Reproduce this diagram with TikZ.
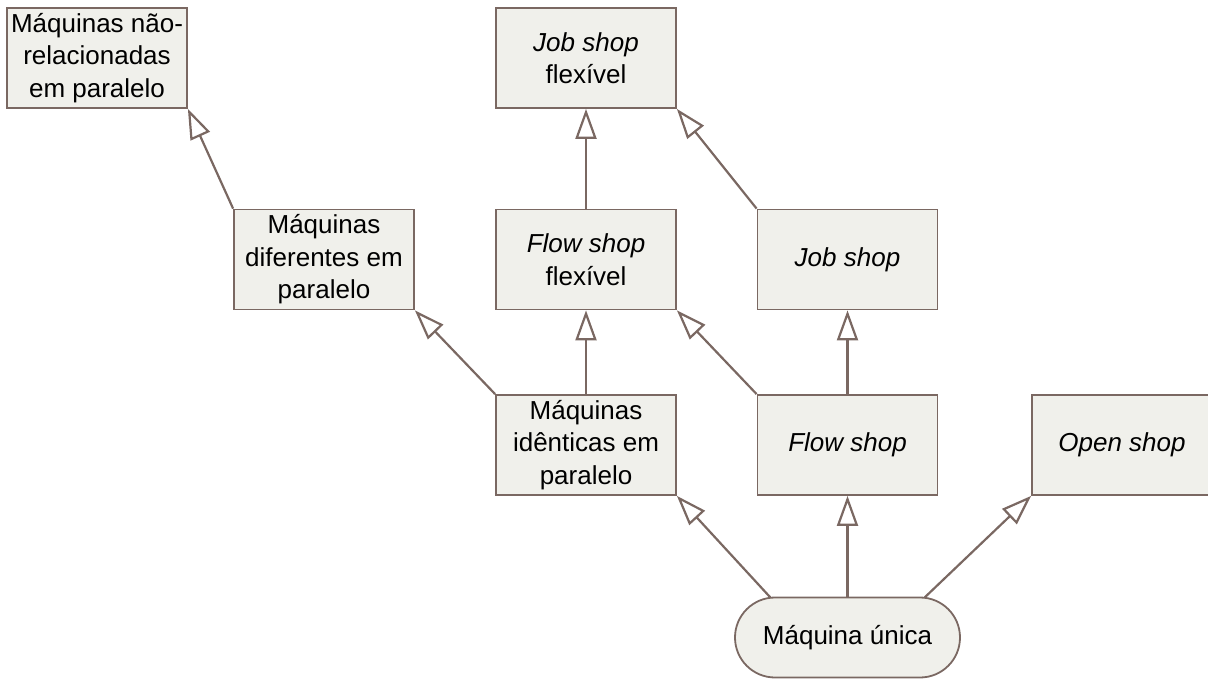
\documentclass[tikz,border=0pt]{standalone}
\usepackage{fontspec}
\setmainfont{Liberation Sans}
\usetikzlibrary{arrows.meta,calc}
\definecolor{edgebrown}{HTML}{7A6862}
\definecolor{boxfill}{HTML}{F0F0EB}
\begin{document}
\begin{tikzpicture}[x=1pt,y=-1pt,
  box/.style={draw=edgebrown,line width=1.8pt,fill=boxfill,rectangle,
    minimum width=180pt,minimum height=100pt,inner sep=0pt,
    align=center,font=\fontsize{26pt}{32.5pt}\selectfont},
  pill/.style={box,rounded corners=40pt,minimum width=225pt,minimum height=80pt},
  link/.style={draw=edgebrown,line width=2.2pt,
    -{Triangle[open,length=30pt,width=21pt,fill=white]}}]
\useasboundingbox (0,0) rectangle (1208,679);

\node[box] (unrel) at (97,58) {Máquinas não-\\relacionadas\\em paralelo};
\node[box] (jobflex) at (586,58) {\textit{Job shop}\\flexível};
\node[box] (difer) at (324,259.5) {Máquinas\\diferentes em\\paralelo};
\node[box] (flowflex) at (586,259.5) {\textit{Flow shop}\\flexível};
\node[box] (job) at (847.5,259.5) {\textit{Job shop}};
\node[box] (ident) at (586,445) {Máquinas\\idênticas em\\paralelo};
\node[box] (flow) at (847.5,445) {\textit{Flow shop}};
\node[box] (open) at (1122,445) {\textit{Open shop}};
\node[pill] (single) at (847.5,637.5) {Máquina única};

\coordinate (sl) at ($(single.north)+(-77,1)$);
\coordinate (sr) at ($(single.north)+(77,1)$);

\draw[link] (difer.north west) -- (unrel.south east);
\draw[link] (ident.north west) -- (difer.south east);
\draw[link] (ident.north) -- (flowflex.south);
\draw[link] (flow.north west) -- (flowflex.south east);
\draw[link] (flow.north) -- (job.south);
\draw[link] (flowflex.north) -- (jobflex.south);
\draw[link] (job.north west) -- (jobflex.south east);
\draw[link] (sl) -- (ident.south east);
\draw[link] (single.north) -- (flow.south);
\draw[link] (sr) -- (open.south west);
\end{tikzpicture}
\end{document}
